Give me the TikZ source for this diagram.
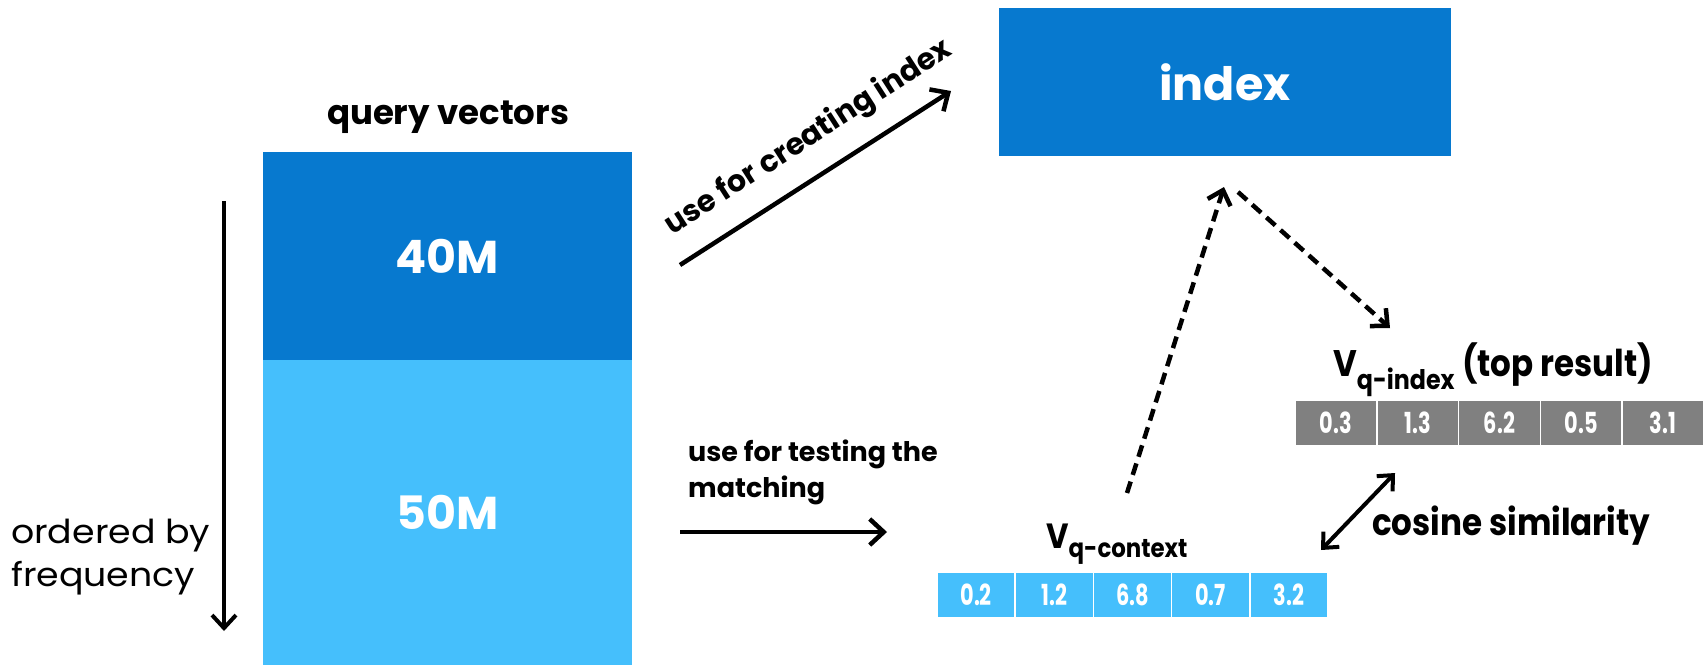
\documentclass[tikz,border=0pt]{standalone}
\usepackage{fontspec}
\setmainfont{Poppins}
\newfontfamily\numfont{Poppins}[FakeStretch=0.72]
\newfontfamily\condfont{Poppins}[FakeStretch=0.88]
\newfontfamily\widefont{Poppins}[FakeStretch=1.1]
\usetikzlibrary{arrows.meta}
\definecolor{dblue}{HTML}{0779CF}
\definecolor{lblue}{HTML}{45BFFC}
\definecolor{cgray}{HTML}{808080}
\newcommand{\fsz}[1]{\fontsize{#1}{#1}\selectfont}
\newcommand{\fsl}[2]{\fontsize{#1}{#2}\selectfont}
\tikzset{
  block/.style={inner sep=0pt, text=white, font=\bfseries\fsz{46}},
  cell/.style={draw=white, line width=1.5pt, inner sep=0pt, minimum height=46pt, text=white, font=\numfont\bfseries\fsz{29}},
  gcell/.style={cell, fill=cgray, minimum width=81.8pt},
  bcell/.style={cell, fill=lblue, minimum width=78.2pt},
  barb/.tip={Straight Barb[length=14pt,width=26pt,line width=4.5pt]},
  solidarrow/.style={line width=4.5pt, -barb},
  dasharrow/.style={line width=4.5pt, dash pattern=on 12pt off 7pt, -{Straight Barb[length=13pt,width=24pt,line width=4.5pt]}},
  lbl/.style={inner sep=0pt, font=\bfseries\fsz{30}},
}
\begin{document}
\begin{tikzpicture}[x=1pt,y=-1pt]
\useasboundingbox (0,0) rectangle (1704,665);
% query vectors
\node[block, fill=dblue, minimum width=369pt, minimum height=208pt] (q40) at (447.5,256) {40M};
\node[block, fill=lblue, minimum width=369pt, minimum height=305pt] (q50) at (447.5,512.5) {50M};
\node[inner sep=0pt, font=\bfseries\fsz{34}] (qv) at (448,117) {query vectors};
% ordered by frequency
\coordinate (ftop) at (224,201);
\coordinate (fbot) at (224,631);
\draw[line width=4pt, -{Straight Barb[length=13pt,width=24pt,line width=4pt]}] (ftop) -- (fbot);
\node[anchor=west, align=left, inner sep=0pt, font=\widefont\fsl{33}{43}] (freq) at (11,557) {ordered by\\frequency};
% index
\node[block, fill=dblue, minimum width=452pt, minimum height=148pt] (idx) at (1225,82) {index};
% creating arrow
\coordinate (c1) at (680,265);
\coordinate (c2) at (951,91);
\draw[solidarrow] (c1) -- (c2);
\node[lbl, rotate=32.8] (clbl) at (809,138) {use for creating index};
% testing arrow
\coordinate (t1) at (680,532);
\coordinate (t2) at (887,532);
\draw[solidarrow] (t1) -- (t2);
\node[lbl, anchor=north west, align=left, font=\bfseries\fsl{27}{36}] (tlbl) at (688,440) {use for testing the\\matching};
% index vector
\foreach \v [count=\i from 0] in {0.3,1.3,6.2,0.5,3.1}{
  \node[gcell] (g\i) at ({1295+40.9+81.8*\i},423) {\v};
}
\node[anchor=base west, inner sep=0pt, font=\condfont\bfseries\fsz{37}] (vidx) at (1333,376) {V\textsubscript{\fsz{27}q-index} (top result)};
% context vector
\foreach \v [count=\i from 0] in {0.2,1.2,6.8,0.7,3.2}{
  \node[bcell] (b\i) at ({937+39.1+78.2*\i},595) {\v};
}
\node[anchor=base west, inner sep=0pt, font=\condfont\bfseries\fsz{35}] (vctx) at (1046,548) {V\textsubscript{\fsz{26}q-context}};
% dashed arrows
\coordinate (d1) at (1127,493);
\coordinate (d2) at (1224,187);
\draw[dasharrow] (d1) -- (d2);
\coordinate (e1) at (1238,192);
\coordinate (e2) at (1390,328);
\draw[dasharrow] (e1) -- (e2);
% cosine similarity
\coordinate (s1) at (1321,550);
\coordinate (s2) at (1395,473);
\draw[line width=4pt, {Straight Barb[length=12pt,width=22pt,line width=4pt]}-{Straight Barb[length=12pt,width=22pt,line width=4pt]}] (s1) -- (s2);
\node[anchor=base west, inner sep=0pt, font=\condfont\bfseries\fsz{37}] (cos) at (1372,535) {cosine similarity};
\end{tikzpicture}
\end{document}
